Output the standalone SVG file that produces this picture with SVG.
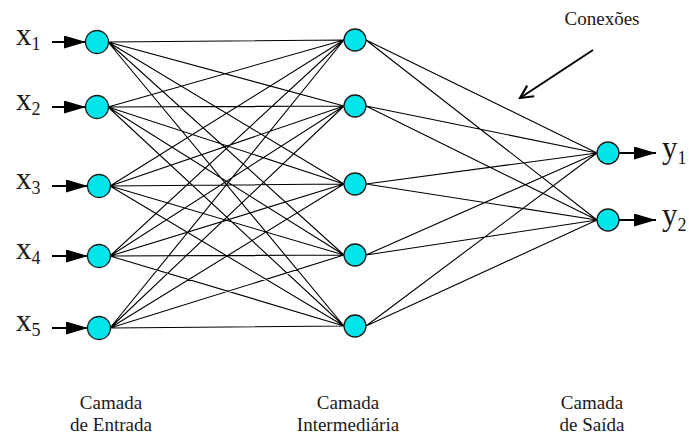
<svg xmlns="http://www.w3.org/2000/svg" width="689" height="437" viewBox="0 0 689 437">
<style>
.c{stroke:#000;stroke-width:1.1;fill:none}
.n{fill:#00e5ea;stroke:#1a1a1a;stroke-width:1.3}
.a{stroke:#000;stroke-width:2.2;fill:none}
text{font-family:'Liberation Serif','Times New Roman',serif;fill:#1a1a1a}
.v{font-size:31px}
.s{font-size:18px}
.l{font-size:19px;text-anchor:middle}
</style>
<defs>
<marker id="ah" viewBox="0 0 10 10" refX="10" refY="5" markerWidth="22" markerHeight="13" markerUnits="userSpaceOnUse" orient="auto" preserveAspectRatio="none"><path d="M0,0 L10,5 L0,10 Z" fill="#000"/></marker>
<marker id="oh" viewBox="0 0 10 10" refX="9" refY="5" markerWidth="16" markerHeight="16" markerUnits="userSpaceOnUse" orient="auto"><path d="M1,1 L9,5 L1,9" fill="none" stroke="#000" stroke-width="1.3"/></marker>
</defs>
<g id="connectors">
<path class="c" d="M108,42L344,40M108,42L344,106M108,42L344,184M108,42L344,255M108,42L344,326
M108,107L344,40M108,107L344,106M108,107L344,184M108,107L344,255M108,107L344,326
M110,186L344,40M110,186L344,106M110,186L344,184M110,186L344,255M110,186L344,326
M110,256L344,40M110,256L344,106M110,256L344,184M110,256L344,255M110,256L344,326
M110,328L344,40M110,328L344,106M110,328L344,184M110,328L344,255M110,328L344,326
M366,40L597,153M366,106L597,153M366,184L597,153M366,255L597,153M366,326L597,153
M366,40L597,220M366,106L597,220M366,184L597,220M366,255L597,220M366,326L597,220"/>
<line class="a" marker-end="url(#ah)" x1="52" y1="42" x2="86" y2="42"/>
<line class="a" marker-end="url(#ah)" x1="52" y1="107" x2="86" y2="107"/>
<line class="a" marker-end="url(#ah)" x1="52" y1="186" x2="88" y2="186"/>
<line class="a" marker-end="url(#ah)" x1="52" y1="256" x2="88" y2="256"/>
<line class="a" marker-end="url(#ah)" x1="52" y1="328" x2="88" y2="328"/>
<line class="a" marker-end="url(#ah)" x1="619" y1="153" x2="656" y2="153"/>
<line class="a" marker-end="url(#ah)" x1="619" y1="220" x2="656" y2="220"/>
<line x1="593" y1="50" x2="520" y2="98" stroke="#000" stroke-width="2" marker-end="url(#oh)"/>
</g>
<g id="input1"><circle class="n" cx="97" cy="42" r="11.5"/><text class="v" x="16" y="45">x<tspan class="s" dy="5">1</tspan></text></g>
<g id="input2"><circle class="n" cx="97" cy="107" r="11.5"/><text class="v" x="16" y="110">x<tspan class="s" dy="5">2</tspan></text></g>
<g id="input3"><circle class="n" cx="99" cy="186" r="11.5"/><text class="v" x="16" y="189">x<tspan class="s" dy="5">3</tspan></text></g>
<g id="input4"><circle class="n" cx="99" cy="256" r="11.5"/><text class="v" x="16" y="259">x<tspan class="s" dy="5">4</tspan></text></g>
<g id="input5"><circle class="n" cx="99" cy="328" r="11.5"/><text class="v" x="16" y="331">x<tspan class="s" dy="5">5</tspan></text></g>
<g id="hidden1"><circle class="n" cx="355" cy="40" r="11"/></g>
<g id="hidden2"><circle class="n" cx="355" cy="106" r="11"/></g>
<g id="hidden3"><circle class="n" cx="355" cy="184" r="11"/></g>
<g id="hidden4"><circle class="n" cx="355" cy="255" r="11"/></g>
<g id="hidden5"><circle class="n" cx="355" cy="326" r="11"/></g>
<g id="output1"><circle class="n" cx="608" cy="153" r="11"/><text class="v" x="662" y="158">y<tspan class="s" dy="6">1</tspan></text></g>
<g id="output2"><circle class="n" cx="608" cy="220" r="11"/><text class="v" x="662" y="225">y<tspan class="s" dy="6">2</tspan></text></g>
<g id="label-conexoes"><text x="602" y="25" font-size="19" text-anchor="middle">Conexões</text></g>
<g id="label-entrada"><text class="l" x="111" y="409">Camada</text><text class="l" x="111" y="431">de Entrada</text></g>
<g id="label-intermediaria"><text class="l" x="348" y="409">Camada</text><text class="l" x="348" y="431">Intermediária</text></g>
<g id="label-saida"><text class="l" x="592" y="409">Camada</text><text class="l" x="592" y="431">de Saída</text></g>
</svg>
